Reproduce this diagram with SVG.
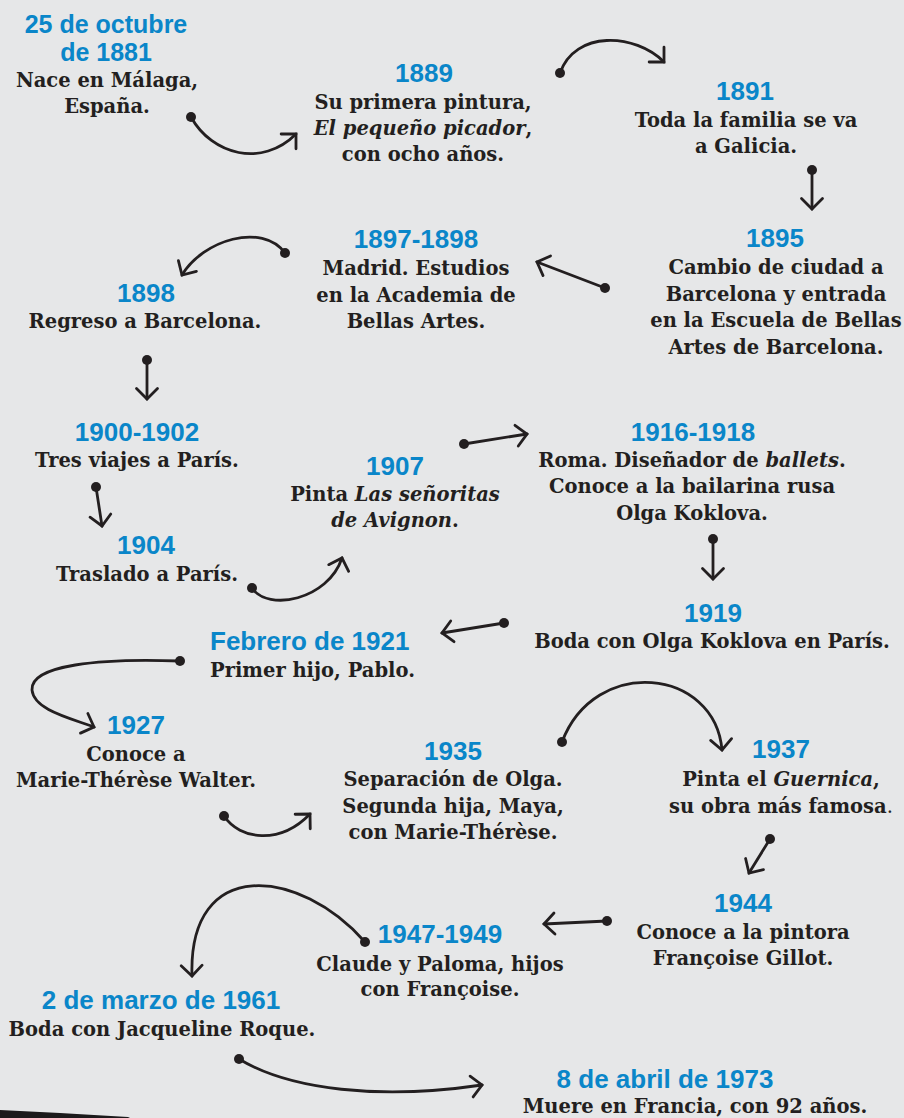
<svg xmlns="http://www.w3.org/2000/svg" width="904" height="1118" viewBox="0 0 904 1118">
<style>
.h{font-family:"Liberation Sans",Arial,sans-serif;font-weight:bold;font-size:26px;fill:#0a86c9;text-anchor:middle}
.h25{font-size:25px}
.b{font-family:"DejaVu Serif",serif;font-weight:bold;font-size:19.5px;fill:#231f20;text-anchor:middle}
.s{text-anchor:start}
.i{font-style:italic}
.n{font-weight:normal}
.c{fill:none;stroke:#231f20;stroke-width:2.8;stroke-linecap:round;marker-end:url(#ah)}
.d{fill:#231f20}
</style>
<defs>
<marker id="ah" markerUnits="userSpaceOnUse" markerWidth="24" markerHeight="24" refX="0" refY="0" orient="auto" overflow="visible">
<path d="M-10.5,-10.5 L0,0 L-10.5,10.5" fill="none" stroke="#231f20" stroke-width="2.8" stroke-linecap="round" stroke-linejoin="miter"/>
</marker>
</defs>
<rect x="0" y="0" width="904" height="1118" fill="#e6e7e8"/>
<polygon points="0,1110 60,1113 128,1117 130,1118 0,1118" fill="#1c1a1b"/>

<g id="connectors">
<circle class="d" cx="191" cy="117" r="5"/><path class="c" d="M191,117 C212,155 262,168 296,134"/>
<circle class="d" cx="560" cy="73" r="5"/><path class="c" d="M560,73 C575,30 635,33 664,62"/>
<circle class="d" cx="812" cy="170" r="5"/><path class="c" d="M812,170 L812,209"/>
<circle class="d" cx="605" cy="288" r="5"/><path class="c" d="M605,288 L537,262"/>
<circle class="d" cx="285" cy="253" r="5"/><path class="c" d="M285,253 C262,222 203,240 182,275"/>
<circle class="d" cx="147" cy="360" r="5"/><path class="c" d="M147,360 L147,399"/>
<circle class="d" cx="96" cy="487" r="5"/><path class="c" d="M96,487 L102,526"/>
<circle class="d" cx="252" cy="588" r="5"/><path class="c" d="M252,588 C268,612 328,600 342,558"/>
<circle class="d" cx="464" cy="444" r="5"/><path class="c" d="M464,444 L527,434"/>
<circle class="d" cx="713" cy="539" r="5"/><path class="c" d="M713,539 L713,579"/>
<circle class="d" cx="504" cy="623" r="5"/><path class="c" d="M504,623 L442,633"/>
<circle class="d" cx="180" cy="661" r="5"/><path class="c" d="M180,661 C100,658 30,665 32,690 C34,710 70,718 94,727"/>
<circle class="d" cx="224" cy="816" r="5"/><path class="c" d="M224,816 C240,840 280,845 310,814"/>
<circle class="d" cx="562" cy="742" r="5"/><path class="c" d="M562,742 C595,655 715,668 722,750"/>
<circle class="d" cx="770" cy="839" r="5"/><path class="c" d="M770,839 L749,873"/>
<circle class="d" cx="607" cy="921" r="5"/><path class="c" d="M607,921 L544,924"/>
<circle class="d" cx="365" cy="942" r="5"/><path class="c" d="M365,942 C300,868 188,855 192,976"/>
<circle class="d" cx="239" cy="1059" r="5"/><path class="c" d="M239,1059 C290,1090 380,1100 482,1085"/>
</g>

<g id="n1881">
<text class="h h25" x="106" y="33">25 de octubre</text>
<text class="h h25" x="106" y="61">de 1881</text>
<text class="b" x="107" y="87">Nace en Málaga,</text>
<text class="b" x="107" y="113">España.</text>
</g>
<g id="n1889">
<text class="h" x="424" y="82">1889</text>
<text class="b" x="423" y="109">Su primera pintura,</text>
<text class="b" x="423" y="135"><tspan class="i">El pequeño picador</tspan>,</text>
<text class="b" x="423" y="161">con ocho años.</text>
</g>
<g id="n1891">
<text class="h" x="745" y="100">1891</text>
<text class="b" x="746" y="127">Toda la familia se va</text>
<text class="b" x="746" y="153">a Galicia.</text>
</g>
<g id="n1895">
<text class="h" x="775" y="247">1895</text>
<text class="b" x="776" y="274">Cambio de ciudad a</text>
<text class="b" x="776" y="301">Barcelona y entrada</text>
<text class="b" x="776" y="327">en la Escuela de Bellas</text>
<text class="b" x="776" y="354">Artes de Barcelona.</text>
</g>
<g id="n1897">
<text class="h" x="416" y="248">1897-1898</text>
<text class="b" x="416" y="275">Madrid. Estudios</text>
<text class="b" x="416" y="302">en la Academia de</text>
<text class="b" x="416" y="328">Bellas Artes.</text>
</g>
<g id="n1898">
<text class="h" x="146" y="302">1898</text>
<text class="b" x="145" y="328">Regreso a Barcelona.</text>
</g>
<g id="n1900">
<text class="h" x="137" y="441">1900-1902</text>
<text class="b" x="137" y="467">Tres viajes a París.</text>
</g>
<g id="n1904">
<text class="h" x="146" y="554">1904</text>
<text class="b" x="147" y="581">Traslado a París.</text>
</g>
<g id="n1907">
<text class="h" x="395" y="475">1907</text>
<text class="b" x="395" y="501">Pinta <tspan class="i">Las señoritas</tspan></text>
<text class="b" x="395" y="527"><tspan class="i">de Avignon</tspan>.</text>
</g>
<g id="n1916">
<text class="h" x="693" y="441">1916-1918</text>
<text class="b" x="692" y="467">Roma. Diseñador de <tspan class="i">ballets</tspan>.</text>
<text class="b" x="692" y="493">Conoce a la bailarina rusa</text>
<text class="b" x="692" y="520">Olga Koklova.</text>
</g>
<g id="n1919">
<text class="h" x="713" y="622">1919</text>
<text class="b" x="712" y="648">Boda con Olga Koklova en París.</text>
</g>
<g id="n1921">
<text class="h s" x="210" y="650">Febrero de 1921</text>
<text class="b s" x="210" y="677">Primer hijo, Pablo.</text>
</g>
<g id="n1927">
<text class="h" x="136" y="734">1927</text>
<text class="b" x="136" y="761">Conoce a</text>
<text class="b" x="136" y="787">Marie-Thérèse Walter.</text>
</g>
<g id="n1935">
<text class="h" x="453" y="760">1935</text>
<text class="b" x="453" y="786">Separación de Olga.</text>
<text class="b" x="453" y="813">Segunda hija, Maya,</text>
<text class="b" x="453" y="839">con Marie-Thérèse.</text>
</g>
<g id="n1937">
<text class="h" x="781" y="758">1937</text>
<text class="b" x="781" y="786">Pinta el <tspan class="i">Guernica</tspan>,</text>
<text class="b" x="781" y="813">su obra más famosa<tspan class="n">.</tspan></text>
</g>
<g id="n1944">
<text class="h" x="743" y="912">1944</text>
<text class="b" x="743" y="939">Conoce a la pintora</text>
<text class="b" x="743" y="965">Françoise Gillot.</text>
</g>
<g id="n1947">
<text class="h" x="440" y="943">1947-1949</text>
<text class="b" x="440" y="971">Claude y Paloma, hijos</text>
<text class="b" x="440" y="996">con Françoise.</text>
</g>
<g id="n1961">
<text class="h" x="161" y="1009">2 de marzo de 1961</text>
<text class="b" x="162" y="1036">Boda con Jacqueline Roque.</text>
</g>
<g id="n1973">
<text class="h" x="665" y="1088">8 de abril de 1973</text>
<text class="b" x="695" y="1113">Muere en Francia, con 92 años.</text>
</g>
</svg>
